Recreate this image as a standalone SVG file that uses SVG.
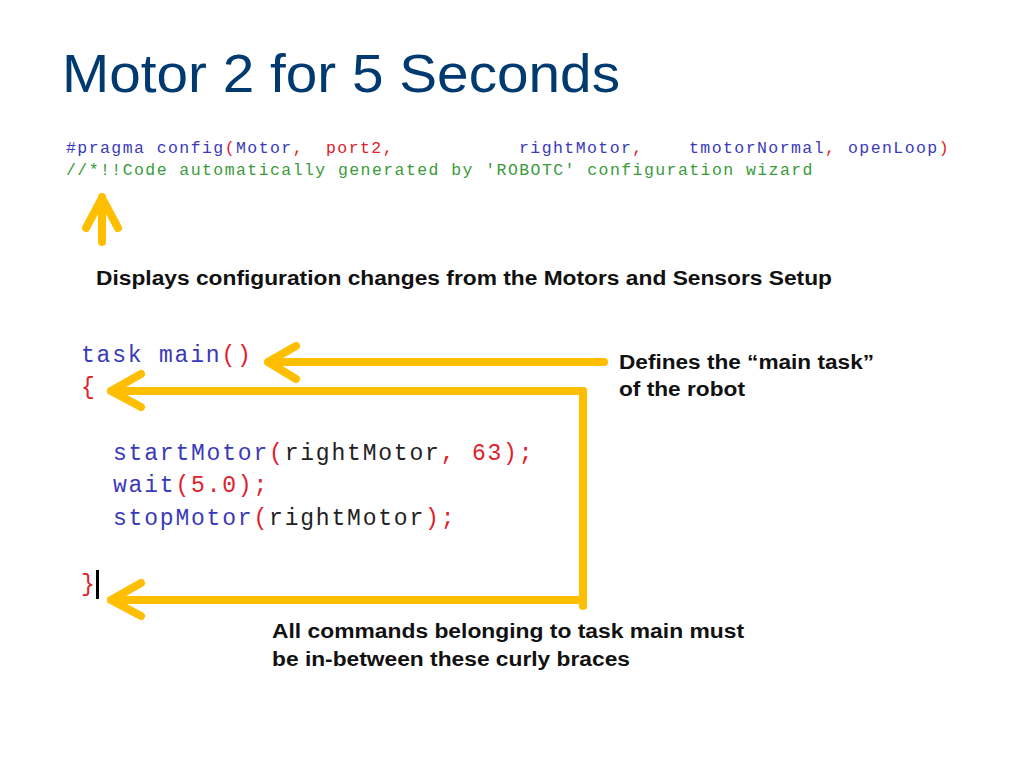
<svg xmlns="http://www.w3.org/2000/svg" width="1024" height="768" viewBox="0 0 1024 768">
<style>
.title{font-family:"Liberation Sans",Arial,sans-serif;font-size:54px;fill:#003A70}
.lbl{font-family:"Liberation Sans",Arial,sans-serif;font-size:20px;font-weight:bold;fill:#111}
.cfg{font-family:"Liberation Mono","Courier New",monospace;font-size:16.5px;letter-spacing:1.43px}
.code{font-family:"Liberation Mono","Courier New",monospace;font-size:23px;letter-spacing:1.8px}
.kw{fill:#3A3AB8}
.rd{fill:#E0202A}
.bk{fill:#222}
.gr{fill:#3A9A3A}
.arr{fill:none;stroke:#FFBE00;stroke-width:8;stroke-linecap:round;stroke-linejoin:round}
</style>
<rect width="1024" height="768" fill="#fff"/>
<text class="title" x="62" y="92" textLength="558" lengthAdjust="spacingAndGlyphs">Motor 2 for 5 Seconds</text>

<g id="config-code">
<text class="cfg" y="153"><tspan x="66" class="kw">#pragma config</tspan><tspan class="rd">(</tspan><tspan class="kw">Motor</tspan><tspan class="rd">,</tspan><tspan x="326" class="rd">port2,</tspan><tspan x="519" class="kw">rightMotor</tspan><tspan class="rd">,</tspan><tspan x="689" class="kw">tmotorNormal</tspan><tspan class="rd">,</tspan><tspan x="848" class="kw">openLoop</tspan><tspan class="rd">)</tspan></text>
<text class="cfg gr" x="66" y="175">//*!!Code automatically generated by 'ROBOTC' configuration wizard</text>
</g>

<g id="config-label">
<text class="lbl" x="96" y="285" textLength="736" lengthAdjust="spacingAndGlyphs">Displays configuration changes from the Motors and Sensors Setup</text>
</g>

<g id="task-code">
<text class="code" x="81" y="362"><tspan class="kw">task main</tspan><tspan class="rd">()</tspan></text>
<text class="code rd" x="81" y="394">{</text>
<text class="code" x="113" y="460"><tspan class="kw">startMotor</tspan><tspan class="rd">(</tspan><tspan class="bk">rightMotor</tspan><tspan class="rd">, 63);</tspan></text>
<text class="code" x="113" y="492"><tspan class="kw">wait</tspan><tspan class="rd">(5.0);</tspan></text>
<text class="code" x="113" y="525"><tspan class="kw">stopMotor</tspan><tspan class="rd">(</tspan><tspan class="bk">rightMotor</tspan><tspan class="rd">);</tspan></text>
<text class="code rd" x="81" y="591">}</text>
<rect x="96" y="570" width="3" height="29" fill="#000"/>
</g>

<g id="main-label">
<text class="lbl" x="619" y="369" textLength="255" lengthAdjust="spacingAndGlyphs">Defines the “main task”</text>
<text class="lbl" x="619" y="396" textLength="126" lengthAdjust="spacingAndGlyphs">of the robot</text>
</g>

<g id="braces-label">
<text class="lbl" x="272" y="638" textLength="472" lengthAdjust="spacingAndGlyphs">All commands belonging to task main must</text>
<text class="lbl" x="272" y="666" textLength="358" lengthAdjust="spacingAndGlyphs">be in-between these curly braces</text>
</g>

<g id="connectors">
<path class="arr" d="M102,242 V197 M86,228 L102,198 L118,228"/>
<path class="arr" d="M604,362 H268 M296,346 L268,362 L296,379"/>
<path class="arr" d="M583,391 H111 M141,374 L111,391 L141,407"/>
<path class="arr" d="M583,391 V606"/>
<path class="arr" d="M583,600 H111 M141,583 L111,600 L141,616"/>
</g>
</svg>
